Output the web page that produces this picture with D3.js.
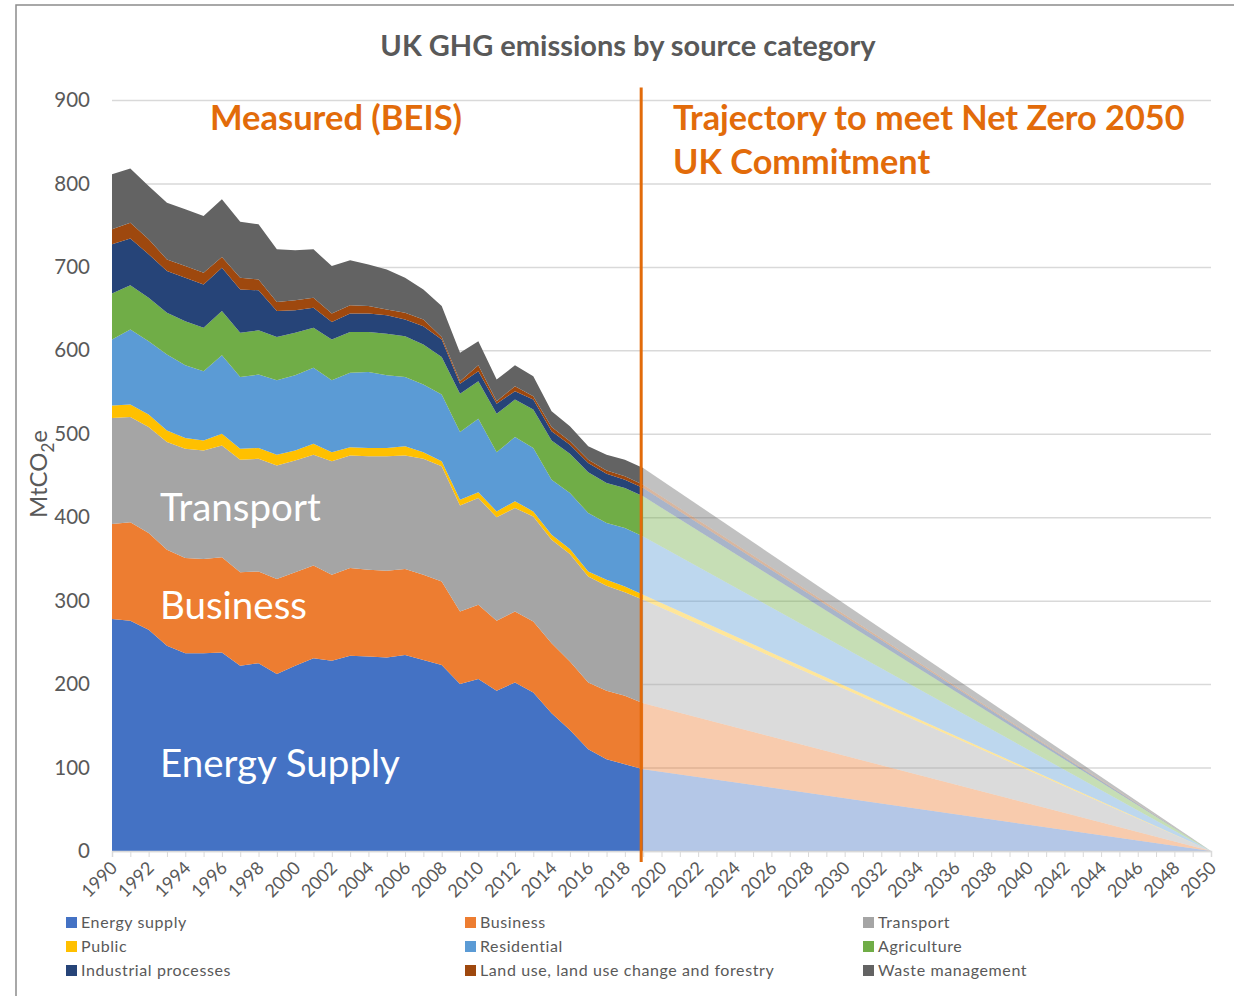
<!DOCTYPE html>
<html>
<head>
<meta charset="utf-8">
<script src="https://cdn.jsdelivr.net/npm/d3@7"></script>
<style>
  body { margin: 0; background: #fff; }
  svg text { font-family: Lato, "Open Sans", sans-serif; }
</style>
</head>
<body>
<script>
// measured years (BEIS) and the Net Zero end year
var years = d3.range(1990, 2020);
var targetYear = 2050;

// MtCO2e by source, 1990..2019
var energySupply = [278,276,265,246,237,237,238,222,225,212,222,231,228,234,233,232,235,229,223,200,206,192,202,190,165,145,122,110,104,98];
var business     = [114,118,116,115,114,113,114,112,110,114,112,111,103,105,104,104,103,102,100,87,89,84,85,85,84,82,80,82,82,79];
var transport    = [127,126,127,129,131,130,134,135,135,136,134,133,136,135,136,137,136,139,138,127,128,124,124,126,124,129,127,126,124,124];
var publicSector = [15,15,15,14,13,12,14,13,13,13,12,13,11,10,10,10,11,8,6,7,7,7,8,6,6,6,6,7,7,6];
var residential  = [79,90,88,91,87,83,94,86,88,89,90,91,86,89,91,87,83,81,80,81,88,71,77,76,66,67,70,68,70,70];
var agriculture  = [55,53,52,50,53,52,53,53,53,52,51,48,49,49,48,50,49,48,45,46,45,46,45,46,47,47,49,48,48,48];
var industrial   = [59,56,52,50,52,52,52,52,48,31,27,24,21,22,22,22,20,22,21,12,12,12,10,12,11,11,11,11,10,10];
var landUse      = [18,19,18,14,14,14,13,14,13,11,12,12,10,10,9,7,8,8,3,3,7,3,6,4,5,4,4,4,4,4];
var waste        = [66,65,64,68,68,68,69,67,66,63,60,58,57,54,50,48,42,36,37,34,29,26,25,24,19,18,16,19,20,20];
var target2050   = 0;

var keys = ["es","bus","tr","pub","res","agr","ind","lu","wa"];
var names = ["Energy supply","Business","Transport","Public","Residential","Agriculture",
             "Industrial processes","Land use, land use change and forestry","Waste management"];
var colors = ["#4472c4","#ed7d31","#a5a5a5","#ffc000","#5b9bd5","#70ad47","#264478","#9e480e","#636363"];
var seriesVals = [energySupply,business,transport,publicSector,residential,agriculture,industrial,landUse,waste];

var xTickLabels = d3.range(1990, 2051, 2);
var yTicks = d3.range(0, 901, 100);

var W = 1234, H = 996;
var pLeft = 112, pRight = 1211, pTop = 100, pBottom = 851;
var orange = "#e26b0a";
var textGrey = "#595959";

var svg = d3.select("body").append("svg")
  .attr("width", W)
  .attr("height", H);

// chart frame
svg.append("rect")
  .attr("x", 16).attr("y", 5)
  .attr("width", W).attr("height", H + 20)
  .attr("fill", "#fff")
  .attr("stroke", "#8c8c8c")
  .attr("stroke-width", 1.5);

var x = d3.scaleLinear().domain([1990, targetYear]).range([pLeft, pRight]);
var y = d3.scaleLinear().domain([0, 900]).range([pBottom, pTop]);

// y gridlines + labels
var yAxis = svg.append("g")
  .attr("transform", "translate(" + pLeft + ",0)")
  .call(d3.axisLeft(y).tickValues(yTicks).tickSize(-(pRight - pLeft)).tickPadding(22));
yAxis.select(".domain").remove();
yAxis.selectAll("line").attr("stroke", "#d9d9d9").attr("stroke-width", 1.5);
yAxis.selectAll("text").attr("fill", textGrey).style("font-size", "20.5px");

// measured data rows
var rows = years.map(function (yr, i) {
  var r = { year: yr };
  keys.forEach(function (k, j) { r[k] = seriesVals[j][i]; });
  return r;
});

// trajectory: last measured year straight down to zero in 2050
var last = rows[rows.length - 1];
var endRow = { year: targetYear };
keys.forEach(function (k) { endRow[k] = target2050; });
var trajRows = [last, endRow];

var stack = d3.stack().keys(keys);
var area = d3.area()
  .x(function (d) { return x(d.data.year); })
  .y0(function (d) { return y(d[0]); })
  .y1(function (d) { return y(d[1]); });

svg.append("g").selectAll("path")
  .data(stack(trajRows))
  .enter()
  .append("path")
  .attr("d", area)
  .attr("fill", function (d, i) { return colors[i]; })
  .attr("fill-opacity", 0.4);

svg.append("g").selectAll("path")
  .data(stack(rows))
  .enter()
  .append("path")
  .attr("d", area)
  .attr("fill", function (d, i) { return colors[i]; });

// x axis with a tick each year, label every two
var xAxis = svg.append("g")
  .attr("transform", "translate(0," + pBottom + ")")
  .call(d3.axisBottom(x).tickValues(d3.range(1990, targetYear + 1)).tickSize(6)
    .tickFormat(function (d) { return xTickLabels.indexOf(d) >= 0 ? d : ""; }));
xAxis.select(".domain").attr("stroke", "#d9d9d9").attr("stroke-width", 1.5);
xAxis.selectAll("line").attr("stroke", "#d9d9d9");
xAxis.selectAll("text")
  .attr("fill", textGrey)
  .style("font-size", "18px")
  .attr("text-anchor", "end")
  .attr("dy", null)
  .attr("y", 0)
  .attr("transform", "translate(6,18) rotate(-45)");

// divider between measured and trajectory
svg.append("line")
  .attr("x1", x(2019) - 2).attr("x2", x(2019) - 2)
  .attr("y1", y(915)).attr("y2", pBottom + 11)
  .attr("stroke", orange)
  .attr("stroke-width", 3);

// title
svg.append("text")
  .attr("x", 628).attr("y", 56)
  .attr("text-anchor", "middle")
  .attr("fill", textGrey)
  .style("font-size", "29px")
  .style("font-weight", "bold")
  .text("UK GHG emissions by source category");

// orange annotations
svg.append("text")
  .attr("x", 210).attr("y", 130)
  .attr("fill", orange)
  .style("font-size", "34.5px")
  .style("font-weight", "bold")
  .text("Measured (BEIS)");
var traj = svg.append("text")
  .attr("x", 673).attr("y", 130)
  .attr("fill", orange)
  .style("font-size", "34.3px")
  .style("font-weight", "bold");
traj.append("tspan").attr("x", 673).text("Trajectory to meet Net Zero 2050");
traj.append("tspan").attr("x", 673).attr("dy", 44).text("UK Commitment");

// white labels on the areas
var areaLabels = [["Transport", 521], ["Business", 619], ["Energy Supply", 777]];
svg.selectAll(".alab")
  .data(areaLabels)
  .enter()
  .append("text")
  .attr("class", "alab")
  .attr("x", 160)
  .attr("y", function (d) { return d[1]; })
  .attr("fill", "#fff")
  .style("font-size", "38.5px")
  .text(function (d) { return d[0]; });

// y axis title
var yt = svg.append("text")
  .attr("transform", "translate(47,474) rotate(-90)")
  .attr("text-anchor", "middle")
  .attr("fill", textGrey)
  .style("font-size", "24px");
yt.append("tspan").text("MtCO");
yt.append("tspan").attr("dy", 7).style("font-size", "17px").text("2");
yt.append("tspan").attr("dy", -7).text("e");

// legend, three columns
var colX = [66, 465, 863];
var leg = svg.selectAll(".leg")
  .data(names)
  .enter()
  .append("g")
  .attr("class", "leg")
  .attr("transform", function (d, i) {
    return "translate(" + colX[i % 3] + "," + (917 + Math.floor(i / 3) * 24) + ")";
  });
leg.append("rect")
  .attr("width", 11).attr("height", 11)
  .attr("fill", function (d, i) { return colors[i]; });
leg.append("text")
  .attr("x", 15).attr("y", 11)
  .attr("fill", textGrey)
  .style("font-size", "16px")
  .style("letter-spacing", "0.6px")
  .text(function (d) { return d; });
</script>
</body>
</html>
